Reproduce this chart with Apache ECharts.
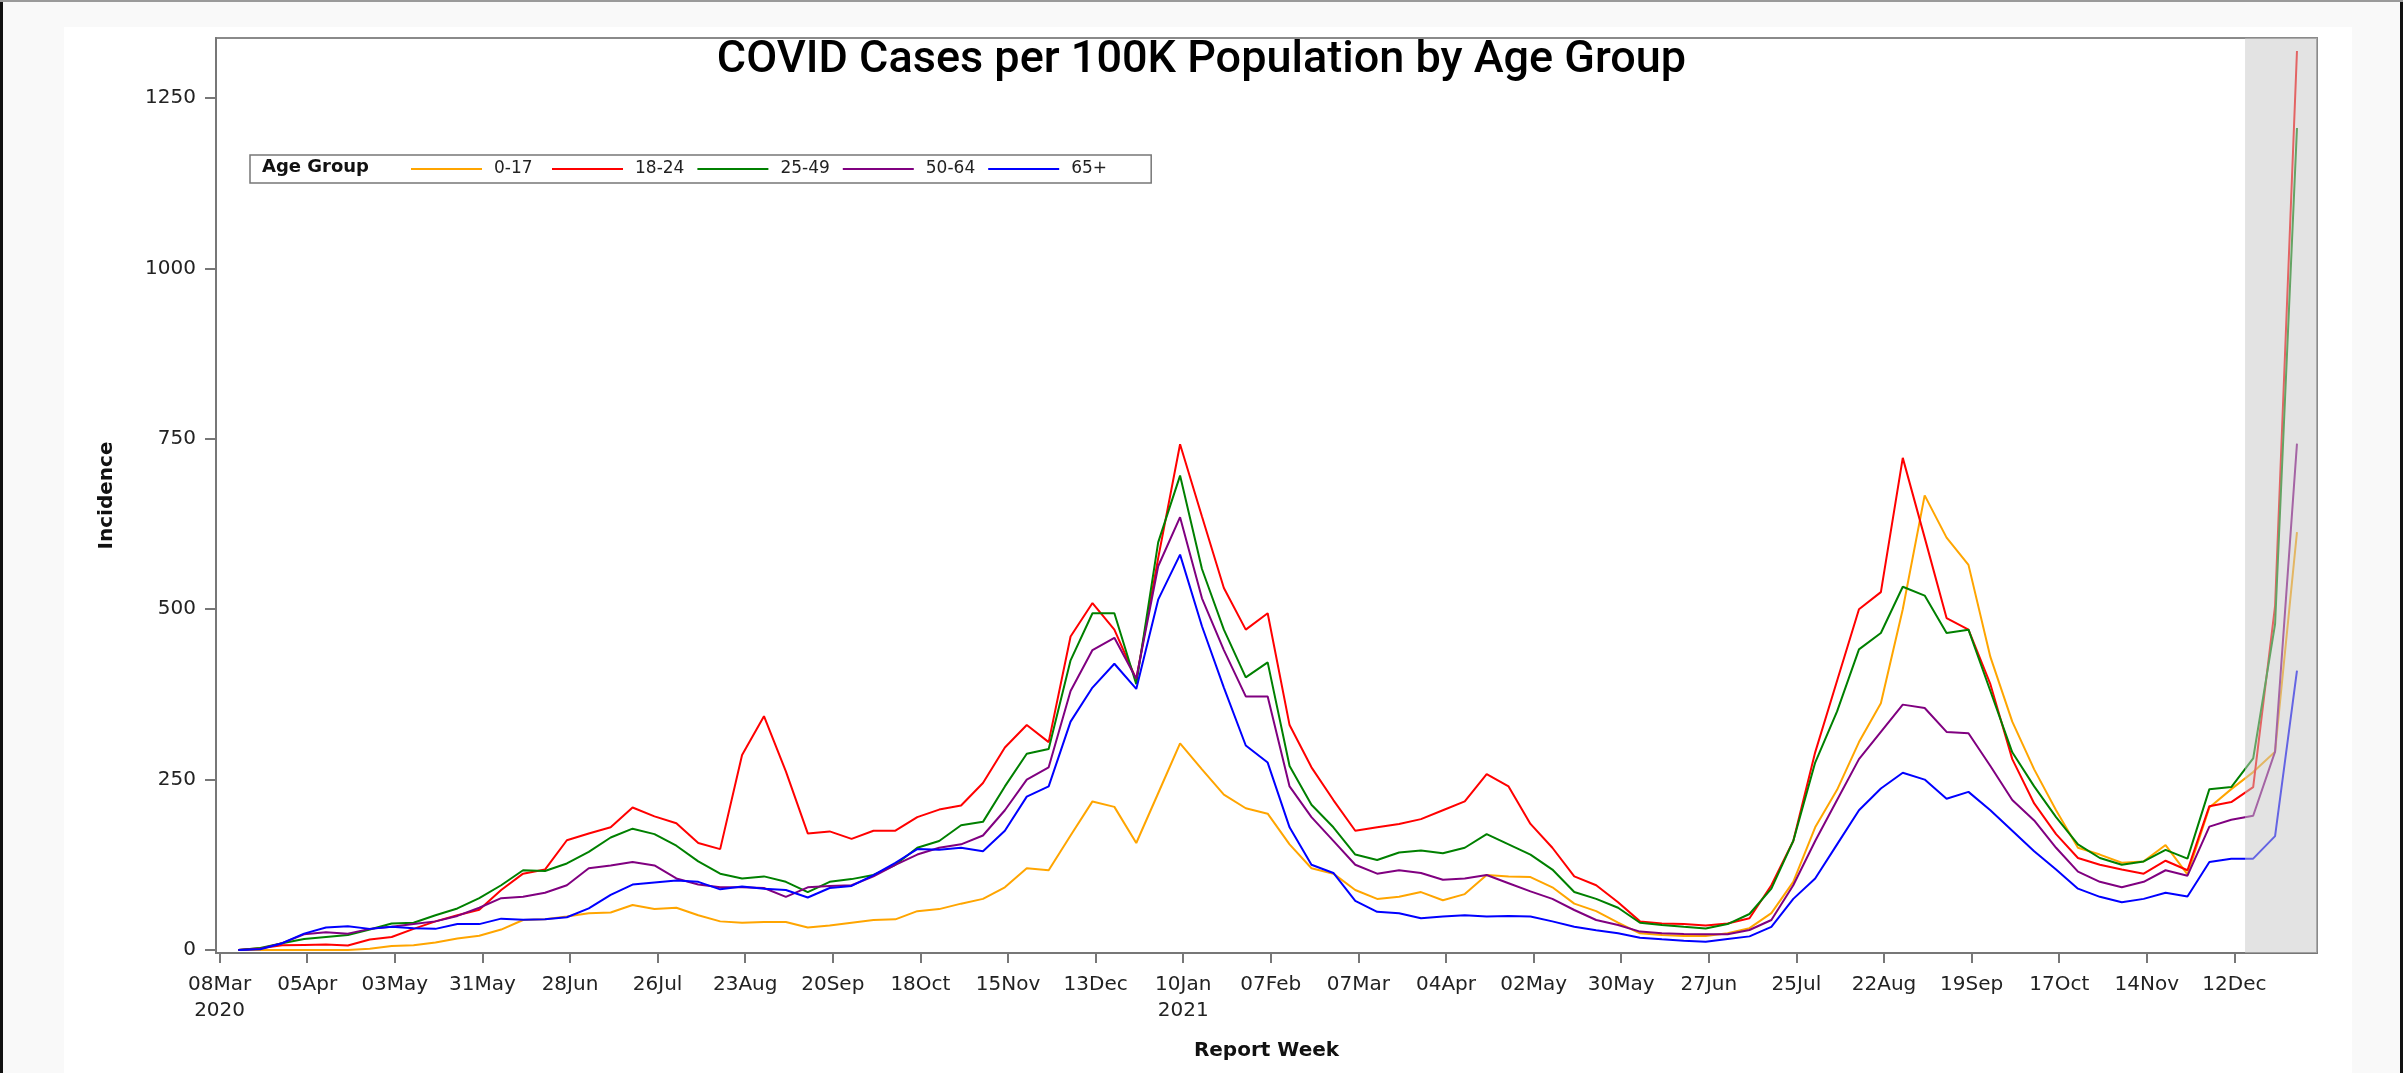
<!DOCTYPE html>
<html>
<head>
<meta charset="utf-8">
<title>COVID Cases per 100K Population by Age Group</title>
<script src="https://cdn.jsdelivr.net/npm/echarts@6/dist/echarts.min.js"></script>
<style>
  html, body { margin: 0; padding: 0; background: #f9f9f9; }
  #main { width: 2403px; height: 1073px; }
</style>
</head>
<body>
<div id="main"></div>
<script>
// weekly report dates (week ending), first one below; x axis counts days from AXIS_START
const AXIS_START = '2020-03-08';
const FIRST_WEEK = '2020-03-14';
const WEEK_COUNT = 95;

const tickDates = ['2020-03-08', '2020-04-05', '2020-05-03', '2020-05-31', '2020-06-28', '2020-07-26',
  '2020-08-23', '2020-09-20', '2020-10-18', '2020-11-15', '2020-12-13', '2021-01-10', '2021-02-07',
  '2021-03-07', '2021-04-04', '2021-05-02', '2021-05-30', '2021-06-27', '2021-07-25', '2021-08-22',
  '2021-09-19', '2021-10-17', '2021-11-14', '2021-12-12'];
const tickLabels = ['08Mar\n2020', '05Apr', '03May', '31May', '28Jun', '26Jul', '23Aug', '20Sep',
  '18Oct', '15Nov', '13Dec', '10Jan\n2021', '07Feb', '07Mar', '04Apr', '02May', '30May', '27Jun',
  '25Jul', '22Aug', '19Sep', '17Oct', '14Nov', '12Dec'];
const yTicks = [0, 250, 500, 750, 1000, 1250];

const ageGroups = ['0-17', '18-24', '25-49', '50-64', '65+'];
const colors = ['#ffa500', '#ff0000', '#008000', '#800080', '#0000ff'];

const age0to17 = [0, 0, 0, 0, 0, 0, 2, 6, 7, 11,
  17, 21, 30, 44, 45, 49, 54, 55, 66, 60,
  62, 51, 42, 40, 41, 41, 33, 36, 40, 44,
  45, 57, 60, 68, 75, 92, 120, 117, 168, 218,
  210, 157, 230, 303, 265, 228, 208, 200, 155, 120,
  112, 88, 75, 78, 85, 73, 82, 110, 108, 107,
  92, 68, 57, 40, 24.5, 22, 20.5, 20.5, 24.5, 32,
  54, 100, 180, 235, 305, 362, 500, 667, 605, 565,
  430, 335, 265, 205, 150, 140, 128, 130, 154, 111,
  209, 236, 261, 291, 613];
const age18to24 = [0, 2.4, 7, 7.5, 8, 6.5, 15.5, 19, 31, 42,
  51, 59, 88, 112, 118, 161, 171, 180, 209, 196,
  186, 157, 148, 286, 343, 262, 171, 174, 163, 175,
  175, 195, 206, 212, 245, 297, 330, 305, 460, 509,
  470, 397, 575, 742, 636, 531, 470, 494, 330, 268,
  220, 175, 180, 185, 192, 205, 218, 258, 240, 185,
  150, 108, 95, 70, 42, 39, 38, 36, 39, 46.5,
  95, 160, 290, 395, 500, 525, 722, 605, 487, 470,
  390, 280, 215, 170, 135, 125, 118, 112, 131, 117,
  211, 217, 239, 505, 1319];
const age25to49 = [0, 3, 10, 16, 19, 22, 30, 39, 40, 51,
  61, 76, 95, 117, 116, 127, 144, 165, 178, 170,
  153, 130, 112, 105, 108, 100, 85, 100, 104, 110,
  125, 150, 160, 183, 188, 240, 288, 295, 425, 494,
  494, 390, 598, 696, 559, 470, 400, 422, 270, 213,
  180, 140, 132, 143, 146, 142, 150, 170, 155, 140,
  118, 85, 75, 62, 40, 36.7, 34, 31.7, 38, 52.8,
  90, 160, 275, 350, 441, 465, 533, 520, 465, 470,
  380, 290, 240, 195, 155, 135, 125, 130, 147, 134,
  236, 239, 281, 478, 1206];
const age50to64 = [0, 2, 10, 23, 26, 24, 31, 34, 38, 42,
  50, 62, 76, 78, 84, 95, 120, 124, 129, 124,
  105, 96, 92, 92, 91, 78, 92, 94, 95, 108,
  125, 140, 150, 155, 168, 205, 250, 268, 380, 440,
  458, 398, 563, 635, 516, 440, 372, 372, 240, 195,
  160, 125, 112, 117, 113, 103, 105, 110, 98, 86,
  75, 58.7, 44, 36.7, 27, 24.5, 23.5, 23, 23, 29.3,
  44, 95, 160, 220, 280, 320, 360, 355, 320, 318,
  270, 220, 190, 150, 115, 100, 92, 100, 117, 109,
  181, 191, 197, 291, 743];
const age65plus = [0, 1, 10, 24, 33, 35, 31, 34, 32, 31,
  38, 38, 46, 44.5, 45, 48, 61, 81, 96, 99,
  102, 100, 89, 93, 90, 88, 77, 91, 94, 110,
  128, 148, 147, 150, 145, 175, 225, 240, 335, 385,
  420, 383, 514, 580, 475, 385, 300, 275, 180, 125,
  113, 72, 56, 54, 46.5, 49, 51, 49, 50, 49,
  42, 34, 29, 24.5, 18, 15.6, 13.7, 12, 16, 20,
  34, 75, 105, 155, 205, 237, 260, 250, 222, 232,
  205, 175, 145, 118, 90, 78, 70, 75, 84, 78.5,
  129, 134, 134, 167, 410];
const seriesValues = [age0to17, age18to24, age25to49, age50to64, age65plus];

// shaded (incomplete data) period at the right end, in days from AXIS_START
const BAND_START = 647.4;
const X_MIN = -1.15;
const X_MAX = 670.4;

const DAY = 86400000;
function dayOf(s) {
  return (Date.parse(s + 'T00:00:00Z') - Date.parse(AXIS_START + 'T00:00:00Z')) / DAY;
}
const tickDays = tickDates.map(dayOf);
const firstDay = dayOf(FIRST_WEEK);
const weekDays = [];
for (var i = 0; i < WEEK_COUNT; i++) weekDays.push(firstDay + 7 * i);

const FONT = 'DejaVu Sans';

var chart = echarts.init(document.getElementById('main'));

var series = ageGroups.map(function(name, s) {
  return {
    name: name,
    type: 'line',
    symbol: 'none',
    color: colors[s],
    lineStyle: { width: 2, color: colors[s] },
    data: seriesValues[s].map(function(v, i) { return [weekDays[i], v]; })
  };
});
// grey band drawn over the lines so they look faded inside it
series.push({
  name: 'band',
  type: 'line',
  data: [],
  z: 10,
  markArea: {
    silent: true,
    z: 10,
    itemStyle: { color: 'rgba(200,200,200,0.5)' },
    data: [[{ xAxis: BAND_START }, { xAxis: X_MAX }]]
  }
});

chart.setOption({
  animation: false,
  backgroundColor: '#f9f9f9',
  title: {
    text: 'COVID Cases per 100K Population by Age Group',
    left: 'center',
    top: 38,
    padding: 0,
    textStyle: { fontFamily: 'Roboto', fontSize: 45, fontWeight: 500, color: '#000' }
  },
  graphic: [
    { type: 'rect', z: -10, shape: { x: 64, y: 27, width: 2288, height: 1046 }, style: { fill: '#fff' } },
    { type: 'rect', z: -9, shape: { x: 0, y: 0, width: 3, height: 1073 }, style: { fill: '#111' } },
    { type: 'rect', z: -9, shape: { x: 2400, y: 0, width: 3, height: 1073 }, style: { fill: '#111' } },
    { type: 'rect', z: -9, shape: { x: 0, y: 0, width: 2403, height: 2 }, style: { fill: '#9a9a9a' } },
    {
      type: 'text', left: 262, top: 158, z: 20,
      style: { text: 'Age Group', font: 'bold 18px "DejaVu Sans"', fill: '#111' }
    }
  ],
  legend: {
    data: ageGroups,
    left: 250,
    top: 155,
    orient: 'horizontal',
    icon: 'rect',
    itemWidth: 71,
    itemHeight: 2,
    itemGap: 13,
    padding: [4, 35, 4, 161],
    borderColor: '#777',
    borderWidth: 1.5,
    backgroundColor: '#fff',
    selectedMode: false,
    textStyle: { fontFamily: FONT, fontSize: 17, color: '#222', width: 45, lineHeight: 20, padding: [0, 0, 0, 7] }
  },
  grid: {
    left: 216, top: 38, width: 2101, height: 915,
    show: true, borderColor: '#8a8a8a', borderWidth: 2, backgroundColor: 'transparent'
  },
  xAxis: {
    type: 'value',
    min: X_MIN,
    max: X_MAX,
    name: 'Report Week',
    nameLocation: 'middle',
    nameGap: 88,
    nameTextStyle: { fontFamily: FONT, fontSize: 20, fontWeight: 'bold', color: '#111' },
    splitLine: { show: false },
    axisLine: { onZero: false, lineStyle: { color: '#777', width: 2 } },
    axisTick: { customValues: tickDays, length: 10, lineStyle: { color: '#777', width: 2 } },
    axisLabel: {
      customValues: tickDays,
      margin: 19,
      fontFamily: FONT, fontSize: 20, lineHeight: 26, color: '#222',
      formatter: function(v) {
        var idx = tickDays.indexOf(v);
        return idx >= 0 ? tickLabels[idx] : '';
      }
    }
  },
  yAxis: {
    type: 'value',
    min: -4.4,
    max: 1338,
    name: 'Incidence',
    nameLocation: 'middle',
    nameGap: 99,
    nameTextStyle: { fontFamily: FONT, fontSize: 20, fontWeight: 'bold', color: '#111' },
    splitLine: { show: false },
    axisLine: { show: true, onZero: false, lineStyle: { color: '#777', width: 2 } },
    axisTick: { show: true, customValues: yTicks, length: 11, lineStyle: { color: '#777', width: 2 } },
    axisLabel: {
      customValues: yTicks, margin: 20, fontFamily: FONT, fontSize: 20, color: '#222',
      formatter: function(v) { return String(v); }
    }
  },
  series: series
});
</script>
</body>
</html>
